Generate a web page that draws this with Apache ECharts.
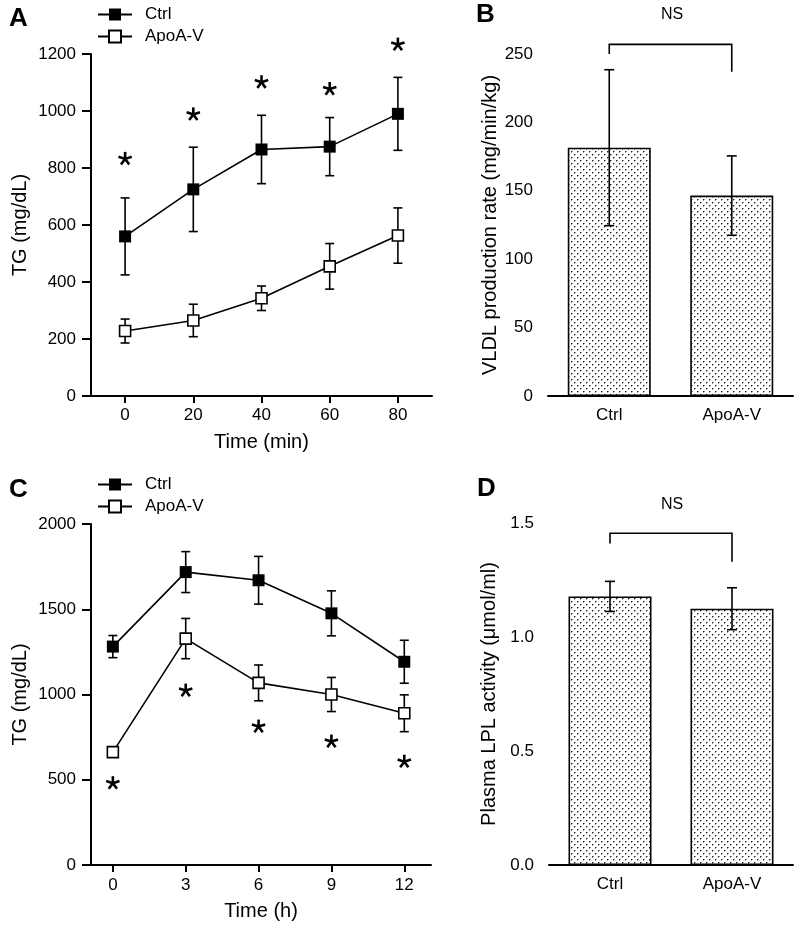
<!DOCTYPE html>
<html>
<head>
<meta charset="utf-8">
<script src="https://cdn.jsdelivr.net/npm/echarts@6/dist/echarts.min.js"></script>
<style>html,body{margin:0;padding:0;background:#fff}#c{width:800px;height:929px}</style>
</head>
<body>
<div id="c"></div>
<script>
// ---------- DATA ----------
// Panel A
const timeA = [0, 20, 40, 60, 80];
const timeATicks = [0, 20, 40, 60, 80];
const ctrlA = [560, 725, 865, 875, 990];
const ctrlAErr = [135, 148, 120, 102, 128];
const apoA = [228, 265, 343, 455, 563];
const apoAErr = [42, 57, 43, 80, 97];
const starA = [832, 988, 1101, 1077, 1233];
// Panel B
const barCats = ['Ctrl', 'ApoA-V'];
const vldlB = [181.5, 146.5];
const vldlBErr = [57, 29];
const bracketB = [250, 257, 237]; // left leg end, top, right leg end
// Panel C
const timeC = [0, 3, 6, 9, 12];
const timeCTicks = [0, 3, 6, 9, 12];
const ctrlC = [1281, 1718, 1670, 1476, 1192];
const ctrlCErr = [65, 120, 140, 132, 126];
const apoC = [662, 1328, 1068, 1000, 890];
const apoCErr = [20, 118, 105, 100, 108];
const starC = [480, 1023, 812, 724, 606];
// Panel D
const lplD = [1.178, 1.124];
const lplDErr = [0.066, 0.092];
const bracketD = [1.41, 1.455, 1.33];

// ---------- STYLE HELPERS ----------
const FF = '"Liberation Sans", Arial, Helvetica, sans-serif';
const BLACK = '#000';

function dotPattern() {
  const c = document.createElement('canvas');
  c.width = 6; c.height = 6;
  const g = c.getContext('2d');
  g.fillStyle = '#fff'; g.fillRect(0, 0, 6, 6);
  g.fillStyle = '#222';
  g.fillRect(1, 1, 1, 1); g.fillRect(4, 4, 1, 1);
  g.fillStyle = '#999';
  g.fillRect(2, 1, 1, 1); g.fillRect(1, 2, 1, 1);
  g.fillRect(5, 4, 1, 1); g.fillRect(4, 5, 1, 1);
  return c;
}
const pattern = { image: dotPattern(), repeat: 'repeat' };

function errRender(capHalf) {
  return function (params, api) {
    const x = api.value(0), y = api.value(1), e = api.value(2);
    const hi = api.coord([x, y + e]);
    const lo = api.coord([x, y - e]);
    const st = { stroke: BLACK, lineWidth: 1.6 };
    return {
      type: 'group',
      children: [
        { type: 'line', shape: { x1: hi[0], y1: hi[1], x2: lo[0], y2: lo[1] }, style: st },
        { type: 'line', shape: { x1: hi[0] - capHalf, y1: hi[1], x2: hi[0] + capHalf, y2: hi[1] }, style: st },
        { type: 'line', shape: { x1: lo[0] - capHalf, y1: lo[1], x2: lo[0] + capHalf, y2: lo[1] }, style: st }
      ]
    };
  };
}

function starRender(params, api) {
  const p = api.coord([api.value(0), api.value(1)]);
  const r = 7;
  const children = [];
  for (let k = 0; k < 5; k++) {
    const a = -Math.PI / 2 + k * 2 * Math.PI / 5;
    children.push({
      type: 'line',
      shape: { x1: p[0], y1: p[1], x2: p[0] + r * Math.cos(a), y2: p[1] + r * Math.sin(a) },
      style: { stroke: BLACK, lineWidth: 2.6 }
    });
  }
  return { type: 'group', children };
}

function bracketRender(params, api) {
  const l = api.value(1), t = api.value(2), r = api.value(3);
  const p1 = api.coord([0, l]), p2 = api.coord([0, t]), p3 = api.coord([1, t]), p4 = api.coord([1, r]);
  return {
    type: 'polyline',
    shape: { points: [p1, p2, p3, p4] },
    style: { stroke: BLACK, lineWidth: 1.6, fill: null }
  };
}

function pairs(xs, ys) { return xs.map((x, i) => [x, ys[i]]); }
function triples(xs, ys, es) { return xs.map((x, i) => [x, ys[i], es[i]]); }

const axisBase = () => ({
  axisLine: { onZero: false, lineStyle: { color: BLACK, width: 2 } },
  axisTick: { inside: false, length: 7, lineStyle: { color: BLACK, width: 2 } },
  axisLabel: { color: BLACK, fontSize: 17, fontFamily: FF, formatter: v => String(v) },
  splitLine: { show: false },
  nameLocation: 'middle',
  nameTextStyle: { color: BLACK, fontSize: 20, fontFamily: FF }
});

function merge(a, b) {
  const o = Object.assign({}, a);
  for (const k in b) {
    if (b[k] && typeof b[k] === 'object' && !Array.isArray(b[k]) && a[k] && typeof a[k] === 'object') {
      o[k] = merge(a[k], b[k]);
    } else o[k] = b[k];
  }
  return o;
}

const grids = [
  { left: 91, top: 54, width: 341, height: 342 },
  { left: 548, top: 54, width: 245, height: 342 },
  { left: 91, top: 524, width: 340, height: 341 },
  { left: 549, top: 523, width: 244, height: 342 }
];

const xAxes = [
  merge(axisBase(), {
    type: 'value', gridIndex: 0, min: -10, max: 90, name: 'Time (min)', nameGap: 36,
    axisTick: { customValues: timeATicks }, axisLabel: { customValues: timeATicks, margin: 11 }
  }),
  merge(axisBase(), {
    type: 'category', gridIndex: 1, data: barCats, boundaryGap: true,
    axisTick: { alignWithLabel: true }, axisLabel: { margin: 11, formatter: null }
  }),
  merge(axisBase(), {
    type: 'value', gridIndex: 2, min: -0.9, max: 13.1, name: 'Time (h)', nameGap: 36,
    axisTick: { customValues: timeCTicks }, axisLabel: { customValues: timeCTicks, margin: 12 }
  }),
  merge(axisBase(), {
    type: 'category', gridIndex: 3, data: barCats, boundaryGap: true,
    axisTick: { alignWithLabel: true }, axisLabel: { margin: 11, formatter: null }
  })
];

const yAxes = [
  merge(axisBase(), {
    type: 'value', gridIndex: 0, min: 0, max: 1200, interval: 200, name: 'TG (mg/dL)', nameGap: 61,
    axisTick: { length: 9 }, axisLabel: { margin: 15 }
  }),
  merge(axisBase(), {
    type: 'value', gridIndex: 1, min: 0, max: 250, interval: 50, name: 'VLDL production rate (mg/min/kg)', nameGap: 48,
    axisTick: { length: 9 }, axisLabel: { margin: 15 }
  }),
  merge(axisBase(), {
    type: 'value', gridIndex: 2, min: 0, max: 2000, interval: 500, name: 'TG (mg/dL)', nameGap: 61,
    axisTick: { length: 9 }, axisLabel: { margin: 15 }
  }),
  merge(axisBase(), {
    type: 'value', gridIndex: 3, min: 0, max: 1.5, interval: 0.5, name: 'Plasma LPL activity (μmol/ml)', nameGap: 50,
    axisTick: { length: 9 }, axisLabel: { margin: 15, formatter: v => v.toFixed(1) }
  })
];

const filledSym = { symbol: 'rect', symbolSize: 12, itemStyle: { color: BLACK, borderColor: BLACK, borderWidth: 0 } };
const openSym = { symbol: 'rect', symbolSize: 11, itemStyle: { color: '#fff', borderColor: BLACK, borderWidth: 1.6 } };
const lineSt = { lineStyle: { color: BLACK, width: 1.6 } };

function lineSeries(name, idx, data, sym) {
  return Object.assign({ type: 'line', name, xAxisIndex: idx, yAxisIndex: idx, data, z: 4, animation: false, showAllSymbol: true }, sym, lineSt);
}
function errSeries(idx, data, cap) {
  return { type: 'custom', xAxisIndex: idx, yAxisIndex: idx, data, renderItem: errRender(cap), z: 3, animation: false, silent: true };
}
function starSeries(idx, data) {
  return { type: 'custom', xAxisIndex: idx, yAxisIndex: idx, data, renderItem: starRender, z: 3, animation: false, silent: true, clip: false };
}

const series = [
  // Panel A
  errSeries(0, triples(timeA, ctrlA, ctrlAErr), 4.5),
  errSeries(0, triples(timeA, apoA, apoAErr), 4.5),
  lineSeries('Ctrl', 0, pairs(timeA, ctrlA), filledSym),
  lineSeries('ApoA-V', 0, pairs(timeA, apoA), openSym),
  starSeries(0, pairs(timeA, starA)),
  // Panel B
  { type: 'bar', xAxisIndex: 1, yAxisIndex: 1, data: vldlB, barWidth: 83, z: 2, animation: false,
    itemStyle: { color: pattern, borderColor: BLACK, borderWidth: 1.6 } },
  errSeries(1, triples([0, 1], vldlB, vldlBErr), 5),
  { type: 'custom', xAxisIndex: 1, yAxisIndex: 1, data: [[0, bracketB[0], bracketB[1], bracketB[2]]], renderItem: bracketRender, z: 3, animation: false, silent: true, clip: false },
  // Panel C
  errSeries(2, triples(timeC, ctrlC, ctrlCErr), 4.5),
  errSeries(2, triples(timeC, apoC, apoCErr), 4.5),
  lineSeries('Ctrl', 2, pairs(timeC, ctrlC), filledSym),
  lineSeries('ApoA-V', 2, pairs(timeC, apoC), openSym),
  starSeries(2, pairs(timeC, starC)),
  // Panel D
  { type: 'bar', xAxisIndex: 3, yAxisIndex: 3, data: lplD, barWidth: 83, z: 2, animation: false,
    itemStyle: { color: pattern, borderColor: BLACK, borderWidth: 1.6 } },
  errSeries(3, triples([0, 1], lplD, lplDErr), 5),
  { type: 'custom', xAxisIndex: 3, yAxisIndex: 3, data: [[0, bracketD[0], bracketD[1], bracketD[2]]], renderItem: bracketRender, z: 3, animation: false, silent: true, clip: false }
];

const legendBase = {
  orient: 'vertical', padding: 0, itemWidth: 34, itemHeight: 15, itemGap: 5,
  data: ['Ctrl', 'ApoA-V'], selectedMode: false,
  textStyle: { color: BLACK, fontSize: 17, fontFamily: FF, padding: [0, 0, 0, 8] }
};

const titleStyle = { color: BLACK, fontSize: 26, fontWeight: 'bold', fontFamily: FF };
const nsStyle = { color: BLACK, fontSize: 16, fontWeight: 'normal', fontFamily: FF };

const option = {
  backgroundColor: '#fff',
  animation: false,
  title: [
    { text: 'A', left: 9, top: 6, padding: 0, textStyle: titleStyle },
    { text: 'B', left: 476, top: 2, padding: 0, textStyle: titleStyle },
    { text: 'C', left: 9, top: 477, padding: 0, textStyle: titleStyle },
    { text: 'D', left: 477, top: 476, padding: 0, textStyle: titleStyle },
    { text: 'NS', left: 672, top: 7, textAlign: 'center', padding: 0, textStyle: nsStyle },
    { text: 'NS', left: 672, top: 497, textAlign: 'center', padding: 0, textStyle: nsStyle }
  ],
  legend: [
    Object.assign({ left: 97, top: 6 }, legendBase),
    Object.assign({ left: 97, top: 476 }, legendBase)
  ],
  grid: grids,
  xAxis: xAxes,
  yAxis: yAxes,
  series
};

const chart = echarts.init(document.getElementById('c'), null, { renderer: 'canvas' });
chart.setOption(option);
</script>
</body>
</html>
